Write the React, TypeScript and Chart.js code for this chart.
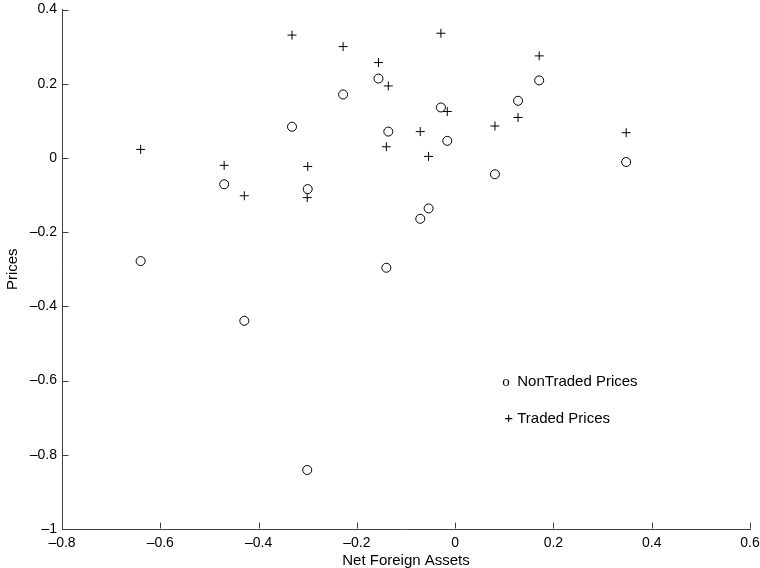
import React, { useEffect, useRef } from "react";
import { Chart, registerables } from "chart.js";

Chart.register(...registerables);

const netForeignAssets = [-0.640, -0.470, -0.429, -0.332, -0.300, -0.301, -0.228, -0.156, -0.136, -0.140, -0.071, -0.054, -0.029, -0.016, 0.081, 0.128, 0.171, 0.348];
const nonTradedPrices = [-0.278, -0.071, -0.439, 0.084, -0.084, -0.841, 0.171, 0.214, 0.071, -0.296, -0.164, -0.136, 0.136, 0.046, -0.044, 0.154, 0.209, -0.011];
const tradedPrices = [0.023, -0.020, -0.102, 0.331, -0.023, -0.107, 0.300, 0.257, 0.194, 0.030, 0.071, 0.004, 0.336, 0.125, 0.086, 0.109, 0.275, 0.068];

const xTickValues = [-0.8, -0.6, -0.4, -0.2, 0, 0.2, 0.4, 0.6];
const yTickValues = [-1, -0.8, -0.6, -0.4, -0.2, 0, 0.2, 0.4];
const legendLabels = ["NonTraded Prices", "Traded Prices"];
const legendAnchorX = 0.1;
const legendAnchorY = [-0.6, -0.7];

const SANS = '"Liberation Sans", Arial, Helvetica, sans-serif';

const fmt = (v: number) => {
  let s = String(Number(v.toFixed(1)));
  if (s === "-0") s = "0";
  return s.replace("-", "\u2013");
};

const extrasPlugin = {
  id: "matlabExtras",
  afterDraw(chart: any) {
    const ctx = chart.ctx;
    const xs = chart.scales.x;
    const ys = chart.scales.y;
    const { left, bottom } = chart.chartArea;
    ctx.save();
    ctx.strokeStyle = "#404040";
    ctx.lineWidth = 1;
    ctx.beginPath();
    const lx = Math.round(left) + 0.5;
    const by = Math.round(bottom) - 0.5;
    yTickValues.forEach((v) => {
      const py = Math.round(ys.getPixelForValue(v)) + 0.5;
      ctx.moveTo(lx, py);
      ctx.lineTo(lx + 6, py);
    });
    xTickValues.forEach((v) => {
      const px = Math.round(xs.getPixelForValue(v)) + 0.5;
      ctx.moveTo(px, by);
      ctx.lineTo(px, by - 6);
    });
    ctx.stroke();

    // legend text
    ctx.fillStyle = "#000";
    ctx.textBaseline = "middle";
    ctx.textAlign = "left";
    const ax = xs.getPixelForValue(legendAnchorX);
    const ay0 = ys.getPixelForValue(legendAnchorY[0]);
    const ay1 = ys.getPixelForValue(legendAnchorY[1]);
    ctx.font = '15px "Liberation Serif", "Times New Roman", serif';
    ctx.fillText("o", ax - 2, ay0 + 1);
    ctx.font = "15px " + SANS;
    ctx.fillText(legendLabels[0], ax + 13, ay0 + 1);
    ctx.fillText("+ " + legendLabels[1], ax, ay1 + 1);
    ctx.restore();
  },
};

export default function App() {
  const ref = useRef<HTMLCanvasElement | null>(null);
  useEffect(() => {
    document.body.style.margin = "0";
    const canvas = ref.current!;
    const chart = new Chart(canvas, {
      type: "scatter",
      data: {
        datasets: [
          {
            label: legendLabels[0],
            data: netForeignAssets.map((x, i) => ({ x, y: nonTradedPrices[i] })),
            pointStyle: "circle",
            pointRadius: 4.5,
            pointBorderWidth: 1,
            borderColor: "#000",
            backgroundColor: "rgba(0,0,0,0)",
          },
          {
            label: legendLabels[1],
            data: netForeignAssets.map((x, i) => ({ x, y: tradedPrices[i] })),
            pointStyle: "cross",
            pointRadius: 4.5,
            pointBorderWidth: 1,
            borderColor: "#000",
            backgroundColor: "rgba(0,0,0,0)",
          },
        ],
      },
      options: {
        responsive: false,
        animation: false,
        devicePixelRatio: 1,
        layout: { padding: { left: 0, right: 10, top: 9.5, bottom: 0 } },
        plugins: { legend: { display: false }, tooltip: { enabled: false } },
        scales: {
          x: {
            type: "linear",
            min: -0.8,
            max: 0.6,
            afterBuildTicks: (s: any) => {
              s.ticks = xTickValues.map((value) => ({ value }));
            },
            afterFit: (s: any) => {
              s.height = 39;
              s.paddingLeft = 0;
              s.paddingRight = 0;
            },
            grid: { display: false, drawTicks: false, tickLength: 0 },
            border: { display: true, color: "#404040", width: 1 },
            ticks: {
              padding: 6,
              color: "#000",
              autoSkip: false,
              maxRotation: 0,
              font: { family: SANS, size: 14 },
              callback: (v: any) => fmt(Number(v)),
            },
            title: {
              display: true,
              text: "Net Foreign Assets",
              color: "#000",
              font: { family: SANS, size: 15 },
              padding: { top: 0, bottom: -2 },
            },
          },
          y: {
            type: "linear",
            min: -1,
            max: 0.4,
            afterBuildTicks: (s: any) => {
              s.ticks = yTickValues.map((value) => ({ value }));
            },
            afterFit: (s: any) => {
              s.width = 62;
              s.paddingTop = 0;
              s.paddingBottom = 0;
            },
            grid: { display: false, drawTicks: false, tickLength: 0 },
            border: { display: true, color: "#404040", width: 1 },
            ticks: {
              padding: 5,
              color: "#000",
              autoSkip: false,
              font: { family: SANS, size: 14 },
              callback: (v: any) => fmt(Number(v)),
            },
            title: {
              display: true,
              text: "Prices",
              color: "#000",
              font: { family: SANS, size: 15 },
              padding: { top: 4, bottom: 0 },
            },
          },
        },
      },
      plugins: [extrasPlugin],
    });
    return () => chart.destroy();
  }, []);
  return (
    <div style={{ width: 760, height: 568, background: "#fff" }}>
      <canvas ref={ref} width={760} height={568} style={{ display: "block" }} />
    </div>
  );
}
